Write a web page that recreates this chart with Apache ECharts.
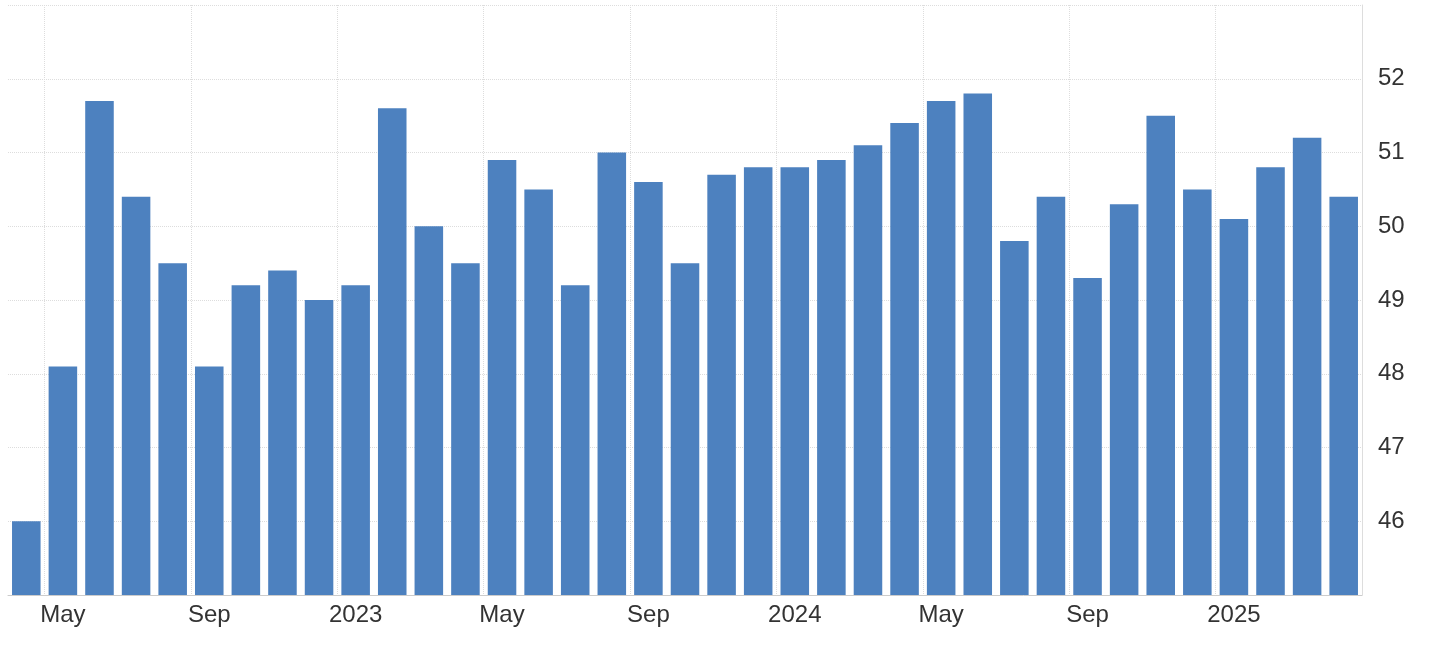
<!DOCTYPE html>
<html><head><meta charset="utf-8">
<script src="https://cdn.jsdelivr.net/npm/echarts@6/dist/echarts.min.js"></script>
<style>html,body{margin:0;background:#fff}#c{width:1438px;height:656px}</style>
</head><body><div id="c"></div>
<script>
const categories = ["Apr 2022","May 2022","Jun 2022","Jul 2022","Aug 2022","Sep 2022","Oct 2022","Nov 2022","Dec 2022",
"Jan 2023","Feb 2023","Mar 2023","Apr 2023","May 2023","Jun 2023","Jul 2023","Aug 2023","Sep 2023","Oct 2023","Nov 2023","Dec 2023",
"Jan 2024","Feb 2024","Mar 2024","Apr 2024","May 2024","Jun 2024","Jul 2024","Aug 2024","Sep 2024","Oct 2024","Nov 2024","Dec 2024",
"Jan 2025","Feb 2025","Mar 2025","Apr 2025"];
const values = [46.0,48.1,51.7,50.4,49.5,48.1,49.2,49.4,49.0,49.2,51.6,50.0,49.5,50.9,50.5,49.2,51.0,50.6,49.5,50.7,50.8,
50.8,50.9,51.1,51.4,51.7,51.8,49.8,50.4,49.3,50.3,51.5,50.5,50.1,50.8,51.2,50.4];
const showIdx = i => (i - 1) % 4 === 0;
const fmt = v => { const [m, y] = v.split(' '); return m === 'Jan' ? y : m; };
const chart = echarts.init(document.getElementById('c'));
chart.setOption({
  animation: false,
  grid: { left: 8, right: 76, top: 5, bottom: 61 },
  xAxis: {
    type: 'category', data: categories,
    axisLine: { lineStyle: { color: '#ccc' } },
    axisTick: { show: false },
    axisLabel: { interval: (i) => showIdx(i), formatter: fmt, color: '#333', fontSize: 24, fontFamily: 'Liberation Sans, Arial', margin: 8 },
    splitLine: { show: true, interval: (i) => showIdx(i), lineStyle: { color: '#ddd', type: 'dotted' } }
  },
  yAxis: {
    type: 'value', position: 'right', min: 45, max: 53, interval: 1,
    axisLine: { show: true, lineStyle: { color: '#ddd' } },
    axisLabel: { color: '#333', fontSize: 24, fontFamily: 'Liberation Sans, Arial', margin: 16,
      formatter: v => (v === 45 || v === 53) ? '' : v },
    splitLine: { lineStyle: { color: '#ddd', type: 'dotted' } }
  },
  series: [{ type: 'bar', data: values, barCategoryGap: '22%', itemStyle: { color: '#4d81bf' } }]
});
</script></body></html>
